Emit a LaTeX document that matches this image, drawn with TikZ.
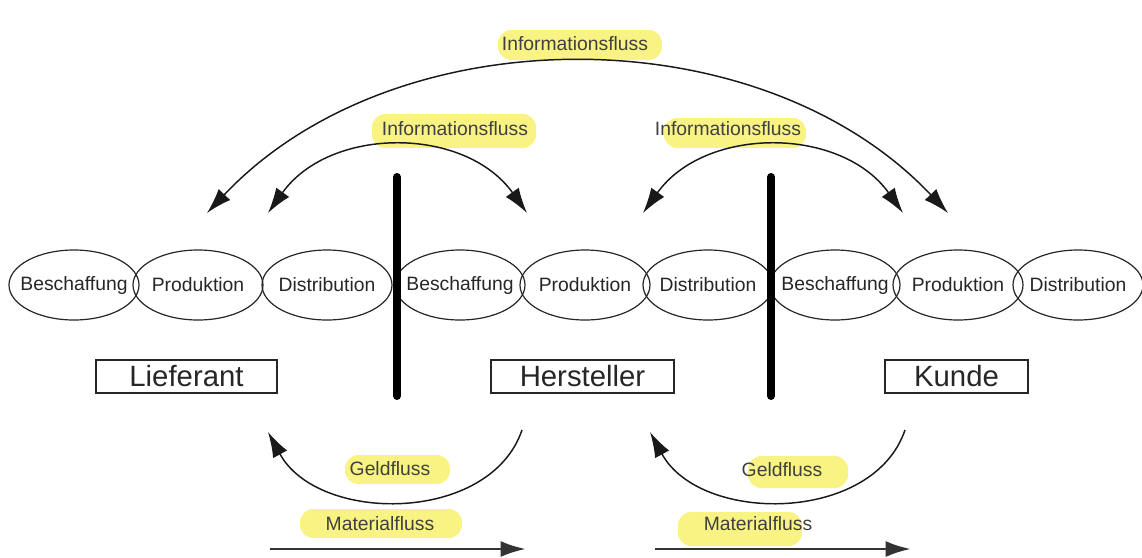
\documentclass[tikz,border=0pt]{standalone}
\usepackage{fontspec}
\setmainfont{Liberation Sans}
\usetikzlibrary{shapes}
\usetikzlibrary{arrows.meta}
\usepackage{xcolor}

\definecolor{hiliteyellow}{RGB}{248,243,130}

\tikzset{
  stage/.style={draw, ellipse, line width=0.9pt, color=black!85, minimum width=97.5pt, minimum height=52.5pt, inner sep=0pt, font=\fontsize{14.5}{17}\selectfont},
  party/.style={draw, line width=1.2pt, color=black!85, minimum height=24.75pt, inner sep=0pt, font=\fontsize{22}{26}\selectfont},
  flow/.style={line width=1.1pt, color=black!90},
  matflow/.style={line width=2.2pt, color=black!80},
  flowlbl/.style={inner sep=0.75pt, text=black!75, font=\fontsize{14.5}{17}\selectfont},
  hilite/.style={fill=hiliteyellow, rounded corners=10pt},
  wall/.style={line width=6pt, line cap=round},
}

\begin{document}
\begin{tikzpicture}[x=0.75pt,y=0.75pt,yscale=-1,xscale=1, >={Latex[length=19pt,width=12pt]}]
\useasboundingbox (0,0) rectangle (1142,557);

%Shape: Highlights
\fill[hilite] (498,30) rectangle (662,60);
\fill[hilite] (372,114) rectangle (536,148);
\fill[hilite] (664,118) rectangle (806,148);
\fill[hilite] (345,455) rectangle (450,484);
\fill[hilite] (748,456) rectangle (848,488);
\fill[hilite] (300,509) rectangle (462,538);
\fill[hilite] (678,512) rectangle (802,546);

%Shape: Ellipse chain
\node[stage] (besch1) at (74,285) {\makebox[0pt]{Beschaffung}};
\node[stage] (prod1) at (198,285) {\makebox[0pt]{Produktion}};
\node[stage] (dist1) at (327,285) {\makebox[0pt]{Distribution}};
\node[stage] (besch2) at (460,285) {\makebox[0pt]{Beschaffung}};
\node[stage] (prod2) at (585,285) {\makebox[0pt]{Produktion}};
\node[stage] (dist2) at (708,285) {\makebox[0pt]{Distribution}};
\node[stage] (besch3) at (835,285) {\makebox[0pt]{Beschaffung}};
\node[stage] (prod3) at (958,285) {\makebox[0pt]{Produktion}};
\node[stage] (dist3) at (1078,285) {\makebox[0pt]{Distribution}};

%Shape: Walls
\draw[wall] (397,177) -- (397,396);
\draw[wall] (771,177) -- (771,396);

%Shape: Boxes
\node[party, minimum width=135.75pt] (lieferant) at (186.5,376.5) {Lieferant};
\node[party, minimum width=137.25pt] (hersteller) at (582.5,376.5) {Hersteller};
\node[party, minimum width=107.25pt] (kunde) at (956.5,376.5) {Kunde};

%Curve Lines
\coordinate (infoTopA) at (207,213);
\coordinate (infoTopB) at (948,213);
\draw[flow,<->] (infoTopA) .. controls (395,14) and (760,14) .. (infoTopB);
\coordinate (infoLA) at (268,213);
\coordinate (infoLB) at (527,213);
\draw[flow,<->] (infoLA) .. controls (330,126) and (465,126) .. (infoLB);
\coordinate (infoRA) at (643,213);
\coordinate (infoRB) at (903,213);
\draw[flow,<->] (infoRA) .. controls (705,126) and (841,126) .. (infoRB);
\coordinate (geldLA) at (522,430);
\coordinate (geldLB) at (268,432);
\draw[flow,->] (geldLA) .. controls (490,524) and (318,524) .. (geldLB);
\coordinate (geldRA) at (905,430);
\coordinate (geldRB) at (650,432);
\draw[flow,->] (geldRA) .. controls (873,524) and (700,524) .. (geldRB);
\coordinate (matLA) at (270,549);
\coordinate (matLB) at (526,549);
\draw[matflow,->] (matLA) -- (matLB);
\coordinate (matRA) at (655,549);
\coordinate (matRB) at (911,549);
\draw[matflow,->] (matRA) -- (matRB);

% Text Node
\node[flowlbl] (infoTop) at (575,44) {Informationsfluss};
% Text Node
\node[flowlbl] (infoL) at (455,129) {Informationsfluss};
% Text Node
\node[flowlbl] (infoR) at (728,129) {Informationsfluss};
% Text Node
\node[flowlbl] (geldL) at (390,469) {Geldfluss};
% Text Node
\node[flowlbl] (geldR) at (782,470) {Geldfluss};
% Text Node
\node[flowlbl] (matL) at (380,524) {Materialfluss};
% Text Node
\node[flowlbl] (matR) at (758,524) {Materialfluss};

\end{tikzpicture}
\end{document}
